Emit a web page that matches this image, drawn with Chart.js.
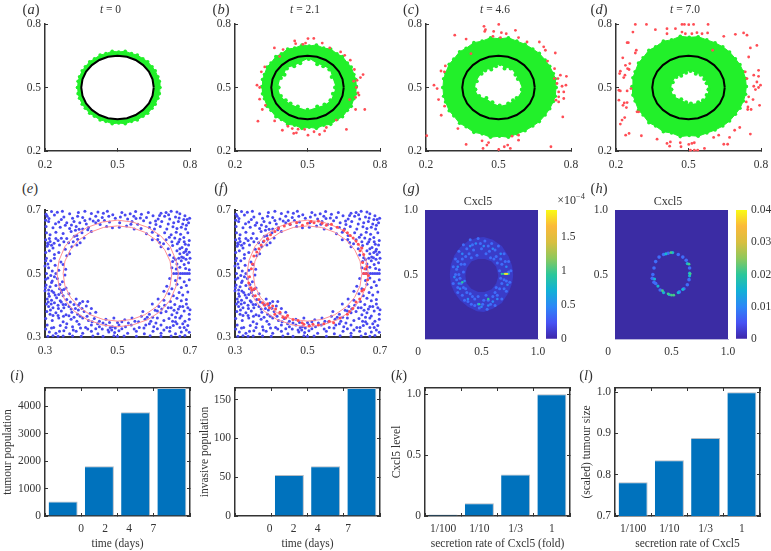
<!DOCTYPE html>
<html>
<head>
<meta charset="utf-8">
<script src="https://cdn.jsdelivr.net/npm/chart.js@4"></script>
<style>
body { margin: 0; background: #fff; width: 771px; height: 551px; overflow: hidden; position: relative; }
canvas { position: absolute; }
.txt { position: absolute; transform: translate(-50%, -50%); font-family: "Liberation Serif", serif; color: #333; white-space: nowrap; }
sup { font-size: 70%; line-height: 0; }
</style>
</head>
<body>
<script>
// bar panels
const dayLabels = ['0', '2', '4', '7'];
const rateLabels = ['1/100', '1/10', '1/3', '1'];
const tumourPop = [530, 1810, 3780, 4668];
const invasivePop = [0, 53, 64, 165];
const cxclLevel = [0.012, 0.104, 0.342, 1];
const tumourSize = [0.782, 0.835, 0.889, 1];

// black reference circle, panels a-d
const circle = [[.65,.5],[.645,.539],[.63,.575],[.606,.606],[.575,.63],[.539,.645],[.5,.65],[.461,.645],[.425,.63],[.394,.606],[.37,.575],[.355,.539],[.35,.5],[.355,.461],[.37,.425],[.394,.394],[.425,.37],[.461,.355],[.5,.35],[.539,.355],[.575,.37],[.606,.394],[.63,.425],[.645,.461],[.65,.5]];

// tumour ring outlines read from a-d
const aOuterTop = [[.335,.5],[.337,.529],[.343,.551],[.354,.579],[.367,.598],[.385,.622],[.405,.636],[.428,.653],[.452,.66],[.478,.671],[.505,.668],[.532,.671],[.558,.66],[.582,.653],[.605,.636],[.625,.622],[.643,.598],[.656,.579],[.667,.551],[.673,.529],[.675,.5]];
const aOuterBot = [[.335,.5],[.337,.471],[.343,.449],[.354,.421],[.367,.402],[.385,.378],[.405,.364],[.428,.347],[.452,.34],[.478,.329],[.505,.332],[.532,.329],[.558,.34],[.582,.347],[.605,.364],[.625,.378],[.643,.402],[.656,.421],[.667,.449],[.673,.471],[.675,.5]];
const aInnerTop = [[.35,.5],[.36,.55],[.385,.595],[.42,.625],[.46,.643],[.5,.648],[.54,.643],[.58,.625],[.615,.595],[.64,.55],[.65,.5]];
const aInnerBot = [[.35,.5],[.36,.45],[.385,.405],[.42,.375],[.46,.357],[.5,.352],[.54,.357],[.58,.375],[.615,.405],[.64,.45],[.65,.5]];
const bOuterTop = [[.312,.504],[.314,.538],[.322,.561],[.333,.597],[.349,.616],[.369,.646],[.392,.659],[.418,.682],[.447,.686],[.477,.701],[.507,.696],[.537,.701],[.567,.686],[.596,.682],[.622,.659],[.645,.646],[.665,.616],[.681,.597],[.692,.561],[.7,.538],[.702,.504]];
const bOuterBot = [[.312,.504],[.314,.47],[.322,.447],[.333,.411],[.349,.392],[.369,.362],[.392,.349],[.418,.326],[.447,.322],[.477,.307],[.507,.312],[.537,.307],[.567,.322],[.596,.326],[.622,.349],[.645,.362],[.665,.392],[.681,.411],[.692,.447],[.7,.47],[.702,.504]];
const bInnerTop = [[.38,.5],[.39,.545],[.405,.56],[.415,.59],[.445,.6],[.47,.615],[.505,.635],[.54,.61],[.565,.6],[.59,.585],[.6,.55],[.615,.5]];
const bInnerBot = [[.38,.5],[.39,.46],[.41,.44],[.43,.425],[.46,.41],[.5,.395],[.54,.41],[.57,.42],[.595,.44],[.605,.47],[.615,.5]];
const cOuterTop = [[.27,.5],[.273,.541],[.281,.568],[.296,.61],[.315,.634],[.339,.669],[.366,.685],[.398,.712],[.432,.719],[.467,.735],[.504,.73],[.541,.735],[.576,.719],[.61,.704],[.642,.682],[.669,.661],[.693,.63],[.712,.6],[.727,.566],[.735,.541],[.738,.5]];
const cOuterBot = [[.27,.5],[.273,.459],[.281,.432],[.296,.39],[.315,.366],[.339,.331],[.366,.315],[.398,.288],[.432,.281],[.467,.265],[.504,.27],[.541,.265],[.576,.281],[.61,.296],[.642,.318],[.669,.339],[.693,.37],[.712,.4],[.727,.434],[.735,.459],[.738,.5]];
const cInnerTop = [[.404,.49],[.41,.53],[.43,.565],[.445,.58],[.47,.585],[.49,.6],[.507,.61],[.525,.59],[.55,.59],[.57,.56],[.58,.54],[.597,.49]];
const cInnerBot = [[.404,.49],[.42,.46],[.45,.45],[.475,.43],[.505,.415],[.54,.425],[.56,.44],[.575,.45],[.597,.49]];
const dOuterTop = [[.267,.505],[.27,.546],[.279,.574],[.293,.616],[.312,.64],[.336,.676],[.364,.692],[.396,.719],[.43,.725],[.466,.742],[.503,.737],[.54,.74],[.576,.725],[.61,.711],[.642,.692],[.67,.668],[.694,.636],[.713,.608],[.727,.574],[.736,.542],[.739,.505]];
const dOuterBot = [[.267,.505],[.27,.464],[.279,.436],[.293,.394],[.312,.37],[.336,.334],[.364,.318],[.396,.291],[.43,.285],[.466,.268],[.503,.273],[.54,.27],[.576,.285],[.61,.299],[.642,.318],[.67,.342],[.694,.374],[.713,.402],[.727,.436],[.736,.468],[.739,.505]];
const dInnerTop = [[.429,.49],[.435,.525],[.45,.55],[.47,.555],[.49,.57],[.508,.578],[.53,.565],[.55,.56],[.565,.54],[.575,.52],[.583,.49]];
const dInnerBot = [[.429,.49],[.44,.46],[.47,.445],[.49,.43],[.51,.424],[.54,.43],[.56,.44],[.575,.465],[.583,.49]];

// invasive cells
const bRed = [[.502,.731],[.526,.732],[.447,.72],[.451,.707],[.481,.704],[.492,.71],[.561,.71],[.363,.687],[.399,.679],[.592,.687],[.637,.668],[.654,.652],[.677,.629],[.694,.585],[.73,.561],[.719,.547],[.705,.534],[.691,.53],[.323,.597],[.309,.574],[.291,.511],[.302,.5],[.302,.445],[.326,.416],[.313,.396],[.702,.5],[.709,.475],[.713,.464],[.699,.453],[.674,.443],[.737,.396],[.699,.396],[.295,.341],[.364,.342],[.396,.298],[.437,.306],[.461,.303],[.443,.283],[.454,.286],[.502,.275],[.527,.291],[.55,.278],[.578,.311],[.571,.295],[.661,.302],[.419,.317],[.385,.647],[.488,.302],[.619,.346]];
const cRed = [[.319,.747],[.366,.729],[.44,.789],[.446,.773],[.443,.765],[.48,.765],[.501,.798],[.512,.759],[.532,.754],[.477,.742],[.508,.736],[.57,.77],[.583,.736],[.618,.715],[.669,.715],[.687,.692],[.694,.676],[.735,.663],[.703,.625],[.732,.589],[.262,.578],[.28,.602],[.276,.574],[.233,.511],[.246,.495],[.252,.443],[.277,.412],[.263,.369],[.332,.306],[.203,.272],[.366,.231],[.432,.248],[.459,.24],[.452,.228],[.436,.212],[.501,.207],[.524,.22],[.538,.228],[.549,.212],[.556,.27],[.583,.275],[.583,.251],[.717,.22],[.731,.542],[.746,.542],[.756,.558],[.781,.553],[.742,.519],[.763,.506],[.779,.511],[.749,.479],[.77,.479],[.749,.456],[.77,.448],[.749,.432],[.766,.361],[.738,.44],[.386,.66]];
const dRed = [[.28,.798],[.326,.798],[.27,.762],[.246,.712],[.251,.712],[.284,.676],[.28,.663],[.228,.64],[.257,.613],[.239,.605],[.248,.589],[.254,.585],[.218,.577],[.215,.566],[.237,.558],[.232,.547],[.212,.487],[.218,.484],[.246,.484],[.262,.495],[.212,.44],[.234,.427],[.246,.429],[.229,.416],[.243,.405],[.287,.385],[.294,.385],[.225,.346],[.236,.358],[.218,.327],[.24,.275],[.254,.283],[.305,.272],[.37,.256],[.411,.778],[.411,.754],[.446,.778],[.473,.798],[.483,.798],[.501,.797],[.521,.798],[.473,.762],[.487,.754],[.514,.754],[.535,.759],[.556,.754],[.581,.798],[.579,.758],[.363,.773],[.411,.236],[.425,.243],[.422,.223],[.466,.239],[.469,.22],[.501,.231],[.514,.236],[.524,.239],[.508,.204],[.524,.204],[.538,.204],[.566,.212],[.604,.264],[.625,.275],[.646,.232],[.662,.232],[.67,.264],[.691,.298],[.712,.311],[.756,.28],[.646,.742],[.694,.751],[.728,.758],[.742,.747],[.783,.699],[.756,.687],[.749,.644],[.735,.574],[.79,.581],[.77,.558],[.79,.553],[.742,.542],[.783,.526],[.77,.506],[.798,.511],[.79,.5],[.777,.49],[.749,.456],[.767,.443],[.739,.432],[.746,.408],[.759,.396],[.794,.416],[.745,.396],[.6,.676]];

// vasculature points, panels e and f
const vessels = [
[.318,.695],[.334,.693],[.348,.696],[.368,.688],[.392,.692],[.41,.696],[.428,.689],[.446,.694],[.461,.69],[.472,.696],[.512,.692],[.535,.688],[.55,.695],[.566,.687],[.62,.69],[.648,.696],[.664,.694],[.672,.688],
[.306,.68],[.326,.684],[.352,.678],[.376,.674],[.39,.68],[.404,.676],[.424,.672],[.44,.68],[.458,.676],[.476,.68],[.494,.674],[.508,.678],[.528,.672],[.545,.68],[.58,.676],[.598,.682],[.612,.672],[.63,.68],[.644,.672],[.66,.678],[.686,.682],[.692,.67],
[.302,.668],[.31,.664],[.338,.662],[.36,.66],[.38,.664],[.396,.66],[.414,.656],[.44,.66],[.452,.654],[.478,.662],[.506,.66],[.54,.664],[.556,.655],[.572,.666],[.59,.66],[.606,.654],[.622,.664],[.64,.656],[.655,.66],[.668,.664],[.68,.656],[.696,.66],
[.303,.648],[.322,.644],[.342,.646],[.368,.642],[.386,.648],[.404,.64],[.42,.645],[.47,.648],[.486,.644],[.505,.646],[.525,.65],[.546,.64],[.565,.642],[.588,.645],[.602,.64],[.618,.648],[.636,.64],[.664,.642],[.676,.646],[.688,.64],
[.304,.628],[.314,.622],[.33,.63],[.35,.626],[.372,.632],[.388,.62],[.402,.628],[.428,.632],[.58,.625],[.596,.63],[.612,.62],[.63,.628],[.648,.622],[.662,.63],[.674,.624],[.694,.628],
[.302,.606],[.312,.61],[.336,.604],[.36,.61],[.378,.6],[.39,.608],[.408,.612],[.596,.606],[.616,.598],[.634,.606],[.65,.6],[.672,.608],[.684,.6],[.698,.604],
[.306,.586],[.322,.58],[.34,.59],[.356,.576],[.374,.584],[.388,.59],[.62,.584],[.64,.578],[.652,.588],[.664,.572],[.678,.582],[.69,.576],[.696,.59],
[.302,.566],[.312,.572],[.326,.56],[.338,.566],[.36,.556],[.368,.562],[.644,.558],[.655,.55],[.672,.562],[.682,.55],[.692,.56],[.7,.548],
[.304,.548],[.316,.54],[.326,.548],[.344,.536],[.35,.528],[.652,.538],[.664,.53],[.676,.54],[.684,.528],[.696,.534],
[.3,.524],[.31,.518],[.328,.526],[.338,.51],[.357,.513],[.355,.495],[.65,.518],[.662,.514],[.672,.52],[.688,.516],[.698,.512],
[.304,.5],[.316,.494],[.33,.5],[.655,.5],[.662,.5],[.668,.5],[.674,.5],[.68,.5],[.686,.5],[.692,.5],[.698,.5],
[.302,.482],[.32,.476],[.334,.484],[.348,.474],[.644,.484],[.66,.478],[.672,.486],[.684,.474],[.698,.48],
[.303,.464],[.314,.458],[.33,.462],[.34,.452],[.346,.447],[.352,.45],[.358,.454],[.636,.46],[.65,.452],[.664,.466],[.676,.456],[.69,.462],
[.3,.446],[.31,.436],[.324,.44],[.338,.434],[.35,.43],[.366,.436],[.628,.444],[.642,.436],[.654,.43],[.67,.44],[.68,.432],[.694,.442],
[.306,.42],[.318,.416],[.332,.424],[.342,.414],[.36,.418],[.37,.41],[.386,.42],[.612,.42],[.628,.416],[.646,.412],[.664,.422],[.676,.414],[.69,.418],
[.304,.404],[.31,.396],[.322,.392],[.336,.4],[.35,.402],[.366,.396],[.38,.402],[.396,.406],[.414,.398],[.596,.404],[.614,.396],[.63,.4],[.648,.392],[.658,.402],[.672,.396],[.694,.392],[.7,.386],
[.305,.38],[.314,.372],[.33,.376],[.345,.382],[.358,.37],[.374,.378],[.39,.372],[.408,.38],[.424,.374],[.44,.378],[.57,.38],[.588,.372],[.604,.384],[.62,.376],[.634,.38],[.65,.37],[.664,.376],[.684,.382],
[.302,.358],[.32,.352],[.338,.36],[.35,.348],[.372,.356],[.388,.35],[.404,.36],[.42,.352],[.436,.358],[.45,.35],[.468,.356],[.49,.36],[.52,.354],[.54,.36],[.558,.348],[.576,.356],[.592,.35],[.61,.36],[.628,.352],[.642,.358],[.66,.348],[.672,.36],[.686,.35],[.698,.356],
[.306,.338],[.324,.33],[.342,.336],[.36,.342],[.376,.332],[.394,.34],[.412,.33],[.428,.338],[.45,.332],[.468,.338],[.486,.332],[.504,.338],[.522,.332],[.538,.338],[.56,.33],[.578,.338],[.6,.332],[.62,.338],[.636,.33],[.654,.336],[.672,.33],[.68,.342],[.694,.336],
[.312,.316],[.33,.312],[.352,.32],[.368,.31],[.386,.318],[.404,.312],[.428,.318],[.446,.31],[.476,.316],[.484,.322],[.492,.314],[.504,.32],[.528,.312],[.552,.318],[.574,.31],[.598,.318],[.62,.312],[.644,.318],[.66,.31],[.676,.316],[.69,.322],
[.308,.302],[.322,.304],[.336,.302],[.35,.303],[.376,.303],[.4,.302],[.432,.303],[.46,.302],[.49,.304],[.5,.302],[.518,.303],[.552,.302],[.59,.304],[.62,.302],[.648,.303],[.672,.302],[.686,.305]
];
// clumps that break the even spread
const vesselClumps = [
[.303,.687],[.311,.673],[.329,.657],[.345,.67],[.356,.652],[.373,.653],[.384,.636],[.394,.639],[.41,.667],[.418,.638],[.433,.665],[.447,.667],[.464,.667],[.487,.685],[.521,.684],[.537,.655],[.551,.673],[.563,.675],[.585,.692],[.605,.665],[.616,.683],[.634,.692],[.641,.685],[.653,.647],[.67,.675],[.683,.67],[.69,.652],[.699,.674],
[.307,.596],[.309,.592],[.314,.601],[.318,.589],[.325,.595],[.33,.61],[.345,.611],[.352,.6],[.365,.597],[.381,.617],[.397,.597],[.611,.607],[.627,.594],[.643,.614],[.658,.612],[.665,.594],[.669,.6],[.683,.613],[.687,.592],[.672,.578],[.683,.566],[.688,.57],[.677,.552],[.66,.544],[.669,.548],[.689,.545],[.698,.567],
[.302,.54],[.308,.53],[.32,.508],[.308,.486],[.318,.472],[.326,.49],[.341,.465],[.301,.455],[.31,.448],[.319,.445],[.328,.432],[.345,.44],[.309,.41],[.312,.428],[.317,.404],[.326,.408],[.337,.39],[.345,.41],[.352,.392],[.357,.402],[.372,.388],[.384,.39],[.392,.385],[.402,.39],[.418,.412],[.428,.39],[.404,.412],[.392,.4],
[.315,.385],[.322,.368],[.336,.368],[.351,.365],[.366,.367],[.38,.362],[.397,.365],[.416,.365],[.43,.348],[.445,.342],[.46,.344],[.478,.346],[.5,.346],[.512,.348],[.53,.344],[.548,.35],[.566,.365],[.582,.362],[.597,.362],[.61,.382],[.622,.388],[.64,.392],[.656,.384],[.668,.388],[.68,.396],[.69,.404],[.698,.372],[.676,.366],[.66,.362],[.652,.35],[.606,.344],[.588,.342],[.573,.328],[.546,.325],[.512,.326],[.494,.328],[.48,.33],[.474,.322],[.458,.325],[.44,.326],[.418,.325],[.398,.328],[.378,.322],[.358,.33],[.34,.318],[.318,.328],[.302,.325],[.61,.326],[.628,.322],[.645,.33],[.664,.342],[.684,.33],[.698,.315]
];
const ringRed = [
[.42,.642],[.436,.65],[.452,.655],[.47,.66],[.486,.652],[.5,.658],[.51,.664],[.518,.66],[.53,.665],[.54,.658],[.552,.652],[.566,.655],[.582,.646],[.6,.636],[.61,.628],[.618,.62],[.626,.612],[.634,.602],[.64,.592],[.65,.58],[.645,.572],[.655,.56],
[.41,.632],[.398,.622],[.39,.61],[.38,.602],[.372,.59],[.366,.578],[.36,.568],[.352,.555],[.348,.53],[.345,.515],[.34,.49],[.338,.47],[.344,.455],[.348,.448],[.354,.452],[.356,.43],[.366,.418],[.376,.408],
[.382,.4],[.39,.405],[.395,.392],[.404,.398],[.412,.388],[.41,.372],[.424,.378],[.432,.362],[.44,.36],[.445,.368],[.46,.355],[.474,.352],[.485,.345],[.49,.34],[.505,.335],[.515,.34],[.53,.338],[.545,.342],[.56,.35],[.572,.345],[.59,.36],[.61,.372],[.616,.38],[.625,.39],[.634,.41],[.644,.42],[.65,.445],[.655,.45],
[.655,.5],[.662,.5],[.668,.494],[.658,.515],[.664,.522],[.652,.535],[.666,.48]
];
const ringOuter = [[.668,.5],[.661,.543],[.645,.585],[.619,.619],[.584,.645],[.542,.662],[.5,.668],[.458,.662],[.416,.645],[.381,.619],[.355,.585],[.339,.542],[.333,.5],[.339,.458],[.355,.416],[.381,.381],[.416,.355],[.458,.338],[.5,.332],[.542,.338],[.584,.355],[.619,.381],[.645,.416],[.661,.458],[.668,.5]];
const ringInner = [[.65,.5],[.645,.539],[.63,.575],[.606,.606],[.575,.63],[.539,.645],[.5,.65],[.461,.645],[.425,.63],[.394,.606],[.37,.575],[.355,.539],[.35,.5],[.355,.461],[.37,.425],[.394,.394],[.425,.37],[.461,.355],[.5,.35],[.539,.355],[.575,.37],[.606,.394],[.63,.425],[.645,.461],[.65,.5]];

// Cxcl5 field panels g and h
const field = [[0,1],[1,1]];
const gOuterTop = [[.218,.5],[.23,.58],[.26,.65],[.31,.71],[.38,.76],[.46,.785],[.52,.79],[.6,.77],[.68,.72],[.74,.64],[.77,.57],[.782,.5]];
const gOuterBot = [[.218,.5],[.23,.42],[.26,.36],[.31,.3],[.38,.25],[.46,.215],[.52,.21],[.6,.235],[.68,.28],[.74,.36],[.77,.43],[.782,.5]];
const gInnerTop = [[.356,.49],[.37,.55],[.41,.6],[.47,.62],[.53,.62],[.59,.6],[.63,.56],[.65,.49]];
const gInnerBot = [[.356,.49],[.37,.43],[.41,.39],[.47,.364],[.53,.364],[.59,.385],[.63,.43],[.65,.49]];
const gSpotsLow = [[.25,.56],[.27,.62],[.3,.68],[.34,.73],[.4,.77],[.47,.78],[.53,.76],[.59,.74],[.65,.72],[.7,.66],[.74,.6],[.76,.53],[.75,.44],[.72,.37],[.68,.31],[.62,.26],[.55,.23],[.48,.24],[.41,.27],[.35,.3],[.29,.36],[.25,.43],[.3,.5],[.32,.58],[.36,.64],[.43,.69],[.5,.7],[.57,.68],[.63,.64],[.68,.58],[.7,.46],[.66,.39],[.6,.33],[.52,.3],[.44,.31],[.37,.36],[.32,.43],[.28,.54],[.34,.52],[.39,.66],[.46,.65],[.54,.66],[.61,.62],[.66,.53],[.68,.43],[.62,.36],[.56,.3],[.47,.33],[.4,.35],[.34,.4],[.28,.46],[.27,.5],[.29,.6],[.33,.62],[.37,.7],[.42,.73],[.49,.74],[.56,.72],[.62,.69],[.67,.62],[.71,.6],[.74,.52],[.72,.45],[.7,.39],[.64,.34],[.58,.27],[.51,.27],[.44,.26],[.38,.29],[.33,.34],[.29,.4],[.35,.58],[.41,.63],[.58,.63],[.64,.59],[.67,.47],[.63,.4],[.54,.34],[.42,.33],[.36,.39],[.31,.47]];
const gSpotsMid = [[.26,.48],[.29,.56],[.33,.66],[.4,.72],[.45,.74],[.52,.72],[.6,.7],[.67,.66],[.72,.56],[.73,.42],[.64,.31],[.56,.26],[.47,.27],[.38,.31],[.31,.39],[.35,.45],[.3,.43],[.5,.25],[.6,.29]];
const gSpotsHot = [[.68,.505],[.7,.505],[.72,.505],[.74,.505],[.48,.27],[.56,.31],[.33,.44]];
const gSpotsTop = [[.71,.505],[.725,.505]];
const hSpotsLow = [[.33,.47],[.335,.5],[.345,.55],[.36,.6],[.39,.635],[.43,.655],[.47,.665],[.56,.655],[.6,.635],[.63,.61],[.66,.55],[.655,.46],[.64,.42],[.61,.39],[.57,.365],[.4,.38],[.36,.43],[.345,.44]];
const hSpotsMid = [[.51,.67],[.45,.66],[.64,.585],[.66,.51],[.66,.49],[.6,.385],[.56,.36],[.48,.345],[.43,.36],[.38,.41],[.35,.465]];
const hSpotsHot = [[.495,.67],[.655,.58],[.665,.505],[.42,.375],[.5,.34],[.47,.35],[.52,.34]];

// colourbar stops, bottom to top
const parula = ['#3e26a8','#4752f4','#2d87f7','#12b1d6','#2cc79a','#8ec85c','#d8bf40','#fbb93a','#f9fb15'];

const ticks28 = [.2,.5,.8], ticks28Labels = ['0.2','0.5','0.8'];
const ticks37 = [.3,.5,.7], ticks37Labels = ['0.3','0.5','0.7'];

const ink = '#333';
const font = { family: 'Liberation Serif', size: 11.5 };
const green = '#22f02a', red = '#ff4d55', blue = '#4848f0', pink = '#ff8f94', bar = '#0072bd', navy = '#3b2ca4';

function noPad(s) {
  s.paddingLeft = s.paddingRight = s.paddingTop = s.paddingBottom = 0;
}

function axis(pos, min, max, vals, labels, fit, extra) {
  return Object.assign({
    type: 'linear', position: pos, min, max,
    afterBuildTicks: s => { s.ticks = vals.map(v => ({ value: v })); },
    afterFit: s => { noPad(s); if (pos === 'left' || pos === 'right') s.width = fit; else s.height = fit; },
    ticks: { autoSkip: false, maxRotation: 0, font, color: ink, padding: pos === 'left' || pos === 'right' ? 7 : 10, callback: (v, i) => labels[i] },
    grid: { drawOnChartArea: false, tickLength: -3, tickColor: ink },
    border: { color: ink, width: 1.5 }
  }, extra);
}

function place(l, t, r, b, ml, mb, config, pr) {
  pr = pr === undefined ? 14 : pr;
  const c = document.createElement('canvas');
  c.width = r - l + ml + pr;
  c.height = b - t + mb + 8;
  c.style.left = (l - ml) + 'px';
  c.style.top = (t - 8) + 'px';
  document.body.appendChild(c);
  config.options = Object.assign({
    responsive: false, animation: false, events: [],
    layout: { padding: { top: 8, right: pr } },
    plugins: { legend: { display: false }, tooltip: { enabled: false } }
  }, config.options);
  new Chart(c, config);
}

function text(x, y, size, html) {
  const d = document.createElement('div');
  d.className = 'txt';
  d.style.left = x + 'px';
  d.style.top = y + 'px';
  d.style.fontSize = size + 'px';
  d.innerHTML = html;
  document.body.appendChild(d);
}

function line(data, color, width, order) {
  return { type: 'scatter', data, showLine: true, tension: 0, borderColor: color, borderWidth: width, pointRadius: 0, order };
}
function dots(data, color, r, order) {
  return { type: 'scatter', data, showLine: false, pointRadius: r, pointBackgroundColor: color, pointBorderWidth: 0, order, clip: 4 };
}
function ring(top, bot, color, dotR, order) {
  return [
    { type: 'scatter', data: top, showLine: true, tension: 0, fill: '+1', backgroundColor: color, borderColor: color, borderWidth: 1, pointRadius: dotR, pointBackgroundColor: green, pointBorderWidth: 0, order },
    { type: 'scatter', data: bot, showLine: true, tension: 0, borderColor: color, borderWidth: 1, pointRadius: dotR, pointBackgroundColor: green, pointBorderWidth: 0, order }
  ];
}

function ringPanel(l, outerTop, outerBot, innerTop, innerBot, innerDot, redPts) {
  const sets = [line(circle, '#000', 2, 1)];
  if (redPts) sets.push(dots(redPts, red, 1.4, 2));
  sets.push(...ring(innerTop, innerBot, '#fff', 0, 3));
  if (innerDot) {
    sets.push(dots(innerTop, green, 2, 2.5));
    sets.push(dots(innerBot, green, 2, 2.5));
  }
  sets.push(...ring(outerTop, outerBot, green, 1.8, 4));
  place(l, 24, l + 145, 151, 45, 20, {
    type: 'scatter',
    data: { datasets: sets },
    options: { scales: {
      x: axis('bottom', .2, .8, ticks28, ticks28Labels, 20),
      y: axis('left', .2, .8, ticks28, ticks28Labels, 45)
    } }
  });
}

ringPanel(45, aOuterTop, aOuterBot, aInnerTop, aInnerBot, false, null);
ringPanel(235, bOuterTop, bOuterBot, bInnerTop, bInnerBot, true, bRed);
ringPanel(426, cOuterTop, cOuterBot, cInnerTop, cInnerBot, true, cRed);
ringPanel(616, dOuterTop, dOuterBot, dInnerTop, dInnerBot, true, dRed);

function vesselPanel(l, redPts) {
  const sets = [];
  if (redPts) sets.push(dots(redPts, red, 1.5, 1));
  sets.push(line(ringOuter, pink, 1, 2), line(ringInner, pink, 1, 2), dots(vessels, blue, 1.5, 3), dots(vesselClumps, blue, 1.5, 3));
  place(l, 210, l + 145, 337, 45, 20, {
    type: 'scatter',
    data: { datasets: sets },
    options: { scales: {
      x: axis('bottom', .3, .7, ticks37, ticks37Labels, 20, { border: { color: ink, width: 2 } }),
      y: axis('left', .3, .7, ticks37, ticks37Labels, 45, { border: { color: ink, width: 2 } })
    } }
  });
}
vesselPanel(45, null);
vesselPanel(235, ringRed);

function fieldPanel(l, sets) {
  sets.push({ type: 'scatter', data: field, showLine: true, fill: 'origin', backgroundColor: navy, borderColor: navy, borderWidth: 0, pointRadius: 0, order: 9 });
  const edge = { border: { color: '#b8b4dc', width: 1 }, grid: { drawOnChartArea: false, drawTicks: false } };
  place(l, 210, l + 113, 339, 36, 20, {
    type: 'scatter',
    data: { datasets: sets },
    options: { scales: {
      x: axis('bottom', 0, 1, [.5, 1], ['', ''], 0, Object.assign({ weight: 0 }, edge)),
      xl: axis('bottom', 0, 1, [-.06, .5, 1], ['0', '0.5', '1.0'], 20, { weight: 1, grid: { display: false, drawTicks: false }, border: { display: false }, ticks: { autoSkip: false, maxRotation: 0, font, color: ink, padding: 6, callback: (v, i) => ['0', '0.5', '1.0'][i] } }),
      y: axis('left', 0, 1, [.5, 1], ['0.5', '1.0'], 36, edge)
    } }
  });
}
function spot(data, color, r, order) {
  return { type: 'scatter', data, showLine: false, pointRadius: r, pointStyle: 'circle', pointBackgroundColor: color, pointBorderWidth: 0, order };
}
const gRing = (top, bot, color, order) => [
  { type: 'scatter', data: top, showLine: true, tension: 0, fill: '+1', backgroundColor: color, borderColor: color, borderWidth: 0, pointRadius: 0, order },
  { type: 'scatter', data: bot, showLine: true, tension: 0, borderColor: color, borderWidth: 0, pointRadius: 0, order }
];
fieldPanel(425, [
  spot(gSpotsTop, '#f6e62a', 1.2, 1), spot(gSpotsHot, '#2cc7a0', 1.2, 2), spot(gSpotsMid, '#2d87f7', 1.3, 3), spot(gSpotsLow, '#3f6dfa', 1.5, 4),
  ...gRing(gInnerTop, gInnerBot, navy, 7), ...gRing(gOuterTop, gOuterBot, '#3a3cc8', 8)
]);
fieldPanel(615, [
  spot(hSpotsHot, '#44cc88', 1.4, 1), spot(hSpotsMid, '#18b4d4', 1.6, 2), spot(hSpotsLow, '#3f6dfa', 1.8, 3)
]);

function colourBar(l, max, vals, labels) {
  const gradient = ctx => {
    const area = ctx.chart.chartArea;
    if (!area) return parula[0];
    const g = ctx.chart.ctx.createLinearGradient(0, area.bottom, 0, area.top);
    parula.forEach((c, i) => g.addColorStop(i / (parula.length - 1), c));
    return g;
  };
  place(l, 210, l + 11, 339, 0, 8, {
    type: 'bar',
    data: { labels: [''], datasets: [{ data: [max], backgroundColor: gradient, barPercentage: 1, categoryPercentage: 1 }] },
    options: {
      layout: { padding: { top: 8, right: 0, bottom: 8 } },
      scales: {
        x: { display: false },
        y: { type: 'linear', position: 'right', min: 0, max,
          afterBuildTicks: s => { s.ticks = vals.map(v => ({ value: v })); },
          afterFit: s => { noPad(s); s.width = 34; },
          ticks: { autoSkip: false, font, color: ink, padding: 4, callback: (v, i) => labels[i] },
          grid: { drawOnChartArea: false, drawTicks: false }, border: { display: false } }
      }
    }
  }, 34);
}
colourBar(546, 1.893, [0, .5, 1, 1.5], ['0', '0.5', '1', '1.5']);
colourBar(736, .04, [0, .01, .02, .03, .04], ['0', '0.01', '0.02', '0.03', '0.04']);

function barPanel(l, ml, values, cats, yMin, yMax, yVals, yLabels, yTitle, xTitle, labelAt) {
  const title = { display: true, text: xTitle, font, color: ink, padding: 0 };
  const box = { grid: { drawOnChartArea: false, tickLength: -3, tickColor: ink }, border: { color: ink, width: 1.5 } };
  const scales = {
    x: {
      type: 'category', position: 'bottom', weight: 0,
      afterFit: s => { noPad(s); s.height = labelAt ? 0 : 35; },
      ticks: { autoSkip: false, maxRotation: 0, font, color: ink, padding: 9, callback: (v, i) => labelAt ? '' : cats[i] },
      title: labelAt ? { display: false } : title,
      ...box
    },
    xt: {
      type: 'category', position: 'top',
      afterFit: s => { noPad(s); s.height = 0; },
      ticks: { callback: () => '' },
      ...box
    },
    y: axis('left', yMin, yMax, yVals, yLabels, ml, { title: { display: true, text: yTitle, font, color: ink, padding: 0 } }),
    yr: axis('right', yMin, yMax, yVals, yVals.map(() => ''), 0, {})
  };
  if (labelAt) {
    scales.xl = axis('bottom', 0, 1, labelAt, cats, 35, {
      weight: 1, title,
      grid: { display: false, drawTicks: false }, border: { display: false },
      ticks: { autoSkip: false, maxRotation: 0, font, color: ink, padding: 6, callback: (v, i) => cats[i] }
    });
  }
  place(l, 388, l + 145, 516, ml, 35, {
    type: 'bar',
    data: { labels: cats, datasets: [{ data: values, backgroundColor: bar, borderColor: '#b5bcc4', borderWidth: { top: 1, right: 1, left: 0, bottom: 0 }, borderSkipped: false, barPercentage: .8, categoryPercentage: 1 }] },
    options: { scales }
  });
}
barPanel(45, 44, tumourPop, dayLabels, 0, 4668, [0, 1000, 2000, 3000, 4000], ['0', '1000', '2000', '3000', '4000'], 'tumour population', 'time (days)', [.166, .386, .607, .83]);
barPanel(235, 37, invasivePop, dayLabels, 0, 165, [0, 50, 100, 150], ['0', '50', '100', '150'], 'invasive population', 'time (days)', [.152, .372, .593, .874]);
barPanel(425, 35, cxclLevel, rateLabels, 0, 1.052, [0, .5, 1], ['0', '0.5', '1.0'], 'Cxcl5 level', 'secretion rate of Cxcl5 (fold)', null);
barPanel(615, 35, tumourSize, rateLabels, .7, 1.01, [.7, .8, .9, 1], ['0.7', '0.8', '0.9', '1.0'], '(scaled) tumour size', 'secretion rate of Cxcl5', null);

[['a', 23, 9], ['b', 213, 9], ['c', 403, 9], ['d', 591, 9], ['e', 22, 188], ['f', 213, 188], ['g', 403, 188], ['h', 591, 188], ['i', 9, 375], ['j', 199, 375], ['k', 391, 375], ['l', 578, 375]].forEach(p => {
  const el = '(<i>' + p[0] + '</i>)';
  text(p[1] + 8, p[2], 14.5, el);
});
text(110.5, 8.5, 11.5, '<i>t</i> = 0');
text(305, 8.5, 11.5, '<i>t</i> = 2.1');
text(495, 8.5, 11.5, '<i>t</i> = 4.6');
text(685, 8.5, 11.5, '<i>t</i> = 7.0');
text(478, 201, 12, 'Cxcl5');
text(668, 201, 12, 'Cxcl5');
text(571, 200, 12, '×10<sup>−4</sup>');
</script>
</body>
</html>
